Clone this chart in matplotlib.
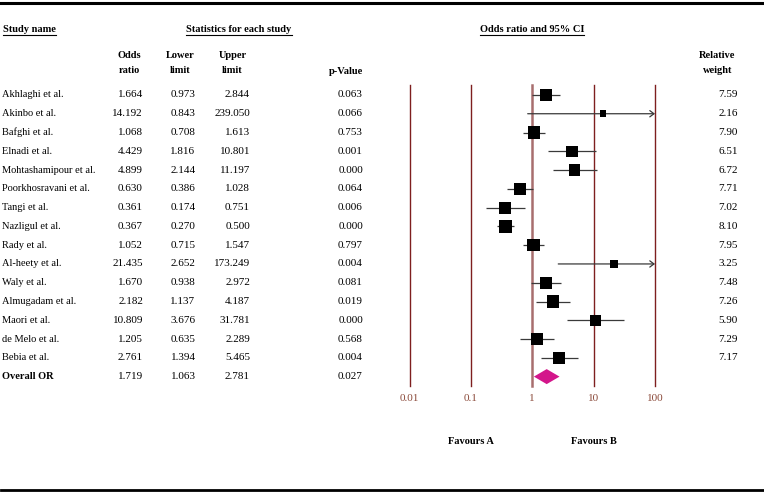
import matplotlib
matplotlib.use('Agg')
import matplotlib.pyplot as plt
import matplotlib.transforms as mtransforms
from matplotlib.lines import Line2D
import numpy as np

plt.rcParams['font.family'] = ['Liberation Serif', 'DejaVu Serif']
plt.rcParams['font.size'] = 7.5

# study data
names = ['Akhlaghi et al.', 'Akinbo et al.', 'Bafghi et al.', 'Elnadi et al.',
         'Mohtashamipour et al.', 'Poorkhosravani et al.', 'Tangi et al.',
         'Nazligul et al.', 'Rady et al.', 'Al-heety et al.', 'Waly et al.',
         'Almugadam et al.', 'Maori et al.', 'de Melo et al.', 'Bebia et al.']
odds = [1.664, 14.192, 1.068, 4.429, 4.899, 0.630, 0.361, 0.367, 1.052,
        21.435, 1.670, 2.182, 10.809, 1.205, 2.761]
lower = [0.973, 0.843, 0.708, 1.816, 2.144, 0.386, 0.174, 0.270, 0.715,
         2.652, 0.938, 1.137, 3.676, 0.635, 1.394]
upper = [2.844, 239.050, 1.613, 10.801, 11.197, 1.028, 0.751, 0.500, 1.547,
         173.249, 2.972, 4.187, 31.781, 2.289, 5.465]
pvals = [0.063, 0.066, 0.753, 0.001, 0.000, 0.064, 0.006, 0.000, 0.797,
         0.004, 0.081, 0.019, 0.000, 0.568, 0.004]
weights = [7.59, 2.16, 7.90, 6.51, 6.72, 7.71, 7.02, 8.10, 7.95, 3.25,
           7.48, 7.26, 5.90, 7.29, 7.17]

# overall summary
overall_or = 1.719
overall_lower = 1.063
overall_upper = 2.781
overall_p = 0.027

xticks = [0.01, 0.1, 1, 10, 100]
xtick_labels = ['0.01', '0.1', '1', '10', '100']

W, H = 764, 493
NUM = 8  # numbers look a bit larger than the names

fig = plt.figure(figsize=(W / 100, H / 100), dpi=100)

ax = fig.add_axes([409.5 / W, 1 - 386 / H, 245.5 / W, 301 / H])
ax.set_xscale('log')
ax.set_xlim(xticks[0], xticks[-1])
ax.set_ylim(15.5, -0.53)
ax.patch.set_alpha(0)
for s in ax.spines.values():
    s.set_visible(False)
ax.set_yticks([])
ax.set_xticks(xticks)
ax.set_xticklabels(xtick_labels)
ax.minorticks_off()
ax.tick_params(axis='x', length=0, pad=6, labelcolor='#8B4A3A', labelsize=8)

# reference lines
for t in xticks:
    if t == 1:
        ax.axvline(t, color='#A86E6E', lw=1.8, zorder=1, clip_on=False)
    else:
        ax.axvline(t, color='#7E1F1F', lw=1.0, zorder=1, clip_on=False)

rows = np.arange(len(names))
odds_a = np.array(odds)
lo_a = np.array(lower)
hi_a = np.array(upper)
w_a = np.array(weights)
xmax = xticks[-1]
clipped = hi_a > xmax

# confidence intervals
ax.hlines(rows[~clipped], lo_a[~clipped], hi_a[~clipped], color='#3A3A3A', lw=0.9, zorder=2)
for r in rows[clipped]:
    ax.annotate('', xy=(xmax, r), xytext=(lo_a[r], r),
                arrowprops=dict(arrowstyle='->,head_length=0.4,head_width=0.3',
                                color='#3A3A3A', lw=0.9, shrinkA=0, shrinkB=0),
                annotation_clip=False, zorder=2)

# squares sized by relative weight
side_pt = 4.46 * np.sqrt(w_a) * 72 / 100
ax.scatter(odds_a, rows, s=side_pt ** 2, marker='s', color='black', linewidths=0, zorder=3)

# overall diamond
orow = len(names)
ax.fill([overall_lower, overall_or, overall_upper, overall_or],
        [orow, orow - 0.4, orow, orow + 0.4], color='#D3168B', lw=0, zorder=3)

# table text
trans = mtransforms.blended_transform_factory(fig.transFigure, ax.transData)
for i, name in enumerate(names):
    ax.text(2 / W, i, name, transform=trans, ha='left', va='center')
    ax.text(143 / W, i, '%.3f' % odds[i], transform=trans, ha='right', va='center', fontsize=NUM)
    ax.text(195.5 / W, i, '%.3f' % lower[i], transform=trans, ha='right', va='center', fontsize=NUM)
    ax.text(250 / W, i, '%.3f' % upper[i], transform=trans, ha='right', va='center', fontsize=NUM)
    ax.text(363 / W, i, '%.3f' % pvals[i], transform=trans, ha='right', va='center', fontsize=NUM)
    ax.text(738 / W, i, '%.2f' % weights[i], transform=trans, ha='right', va='center', fontsize=NUM)

ax.text(2 / W, orow, 'Overall OR', transform=trans, ha='left', va='center', fontweight='bold')
ax.text(143 / W, orow, '%.3f' % overall_or, transform=trans, ha='right', va='center', fontsize=NUM)
ax.text(195.5 / W, orow, '%.3f' % overall_lower, transform=trans, ha='right', va='center', fontsize=NUM)
ax.text(250 / W, orow, '%.3f' % overall_upper, transform=trans, ha='right', va='center', fontsize=NUM)
ax.text(363 / W, orow, '%.3f' % overall_p, transform=trans, ha='right', va='center', fontsize=NUM)

# headers
def ftext(x, y, s, **kw):
    return fig.text(x / W, 1 - y / H, s, va='center', fontweight='bold', **kw)

h1 = ftext(3, 29.5, 'Study name', ha='left')
h2 = ftext(239, 29.5, 'Statistics for each study', ha='center')
h3 = ftext(532, 29.5, 'Odds ratio and 95% CI', ha='center')
ftext(129, 55, 'Odds', ha='center')
ftext(129, 70.5, 'ratio', ha='center')
ftext(180.5, 55, 'Lower', ha='center')
ftext(180.5, 70.5, 'limit', ha='center')
ftext(232.5, 55, 'Upper', ha='center')
ftext(232.5, 70.5, 'limit', ha='center')
ftext(346.5, 71, 'p-Value', ha='center')
ftext(717.5, 55, 'Relative', ha='center')
ftext(717.5, 70.5, 'weight', ha='center')

ftrans = mtransforms.blended_transform_factory(ax.transData, fig.transFigure)
ax.text(0.1, 1 - 441.7 / H, 'Favours A', transform=ftrans, ha='center', va='center', fontweight='bold')
ax.text(10, 1 - 441.7 / H, 'Favours B', transform=ftrans, ha='center', va='center', fontweight='bold')

# underline the group headers
fig.canvas.draw()
renderer = fig.canvas.get_renderer()
for t in (h1, h2, h3):
    bb = t.get_window_extent(renderer)
    fig.add_artist(Line2D([bb.x0 / W, bb.x1 / W], [(bb.y0 - 0.5) / H] * 2, color='black', lw=0.8))

# thick rules top and bottom
fig.add_artist(Line2D([0, 1], [1 - 2.5 / H] * 2, color='black', lw=2.2))
fig.add_artist(Line2D([1 / W, 763 / W], [1 - 490.3 / H] * 2, color='black', lw=2.0))

fig.savefig('out.png', dpi=100)
